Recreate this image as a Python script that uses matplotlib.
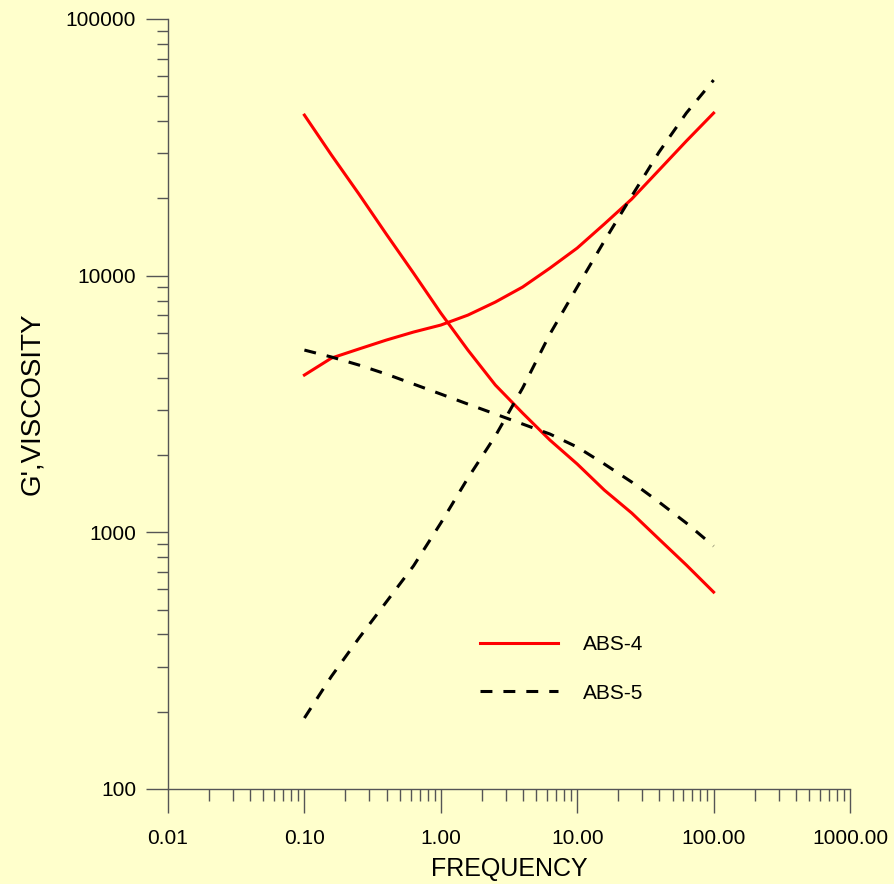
import matplotlib.pyplot as plt
from matplotlib.ticker import LogLocator, FuncFormatter, NullFormatter

# frequency points (5 per decade, 0.1 .. 100)
freq = [0.1, 0.158, 0.251, 0.398, 0.631, 1.0, 1.58, 2.51, 3.98, 6.31,
        10.0, 15.8, 25.1, 39.8, 63.1, 100.0]

# ABS-4 (red, solid)
abs4_visc = [42230, 29500, 20800, 14530, 10230, 7150, 5130, 3750, 2915, 2288,
             1846, 1461, 1189, 941, 746, 585]
abs4_gp = [4100, 4775, 5180, 5610, 6030, 6420, 7020, 7890, 9030, 10700,
           12810, 15890, 19880, 25780, 33450, 43000]

# ABS-5 (black, dashed)
abs5_visc = [5130, 4820, 4485, 4137, 3782, 3457, 3160, 2890, 2642, 2415,
             2149, 1846, 1570, 1312, 1087, 884]
abs5_gp = [189, 275, 387, 535, 740, 1087, 1627, 2373, 3649, 5924,
           9030, 13640, 20420, 30300, 43000, 57810]

x_ticks = [0.01, 0.1, 1, 10, 100, 1000]
y_ticks = [100, 1000, 10000, 100000]

plt.rcParams['font.family'] = ['Liberation Sans', 'DejaVu Sans']
bg = '#FFFFCC'
axis_col = '#555555'

fig = plt.figure(figsize=(8.94, 8.84), dpi=100, facecolor=bg)
ax = fig.add_axes([0.18792, 0.10747, 0.76286, 0.87104], facecolor=bg)

lw = 2.2
dash = (3.9, 3.6)
ax.plot(freq, abs4_visc, color='red', lw=lw, label='ABS-4')
ax.plot(freq, abs4_gp, color='red', lw=lw)
ax.plot(freq, abs5_visc, color='black', lw=lw, dashes=dash, label='ABS-5')
ax.plot(freq, abs5_gp, color='black', lw=lw, dashes=dash)

ax.set_xscale('log')
ax.set_yscale('log')
ax.set_xlim(0.01, 1000)
ax.set_ylim(100, 100000)

ax.set_xticks(x_ticks)
ax.set_yticks(y_ticks)
ax.xaxis.set_minor_locator(LogLocator(base=10, subs=range(2, 10)))
ax.yaxis.set_minor_locator(LogLocator(base=10, subs=range(2, 10)))
ax.xaxis.set_major_formatter(FuncFormatter(lambda v, p: f'{v:.2f}'))
ax.yaxis.set_major_formatter(FuncFormatter(lambda v, p: f'{int(round(v))}'))
ax.xaxis.set_minor_formatter(NullFormatter())
ax.yaxis.set_minor_formatter(NullFormatter())

for s in ['top', 'right']:
    ax.spines[s].set_visible(False)
for s in ['left', 'bottom']:
    ax.spines[s].set_color(axis_col)
    ax.spines[s].set_linewidth(1.0)

ax.tick_params(axis='x', which='major', direction='out', length=17, width=1,
               color=axis_col, labelsize=15, pad=12)
ax.tick_params(axis='x', which='minor', direction='out', length=8.6, width=1,
               color=axis_col)
ax.tick_params(axis='y', which='major', direction='out', length=16, width=1,
               color=axis_col, labelsize=15, pad=7)
ax.tick_params(axis='y', which='minor', direction='out', length=8, width=1,
               color=axis_col)

ax.set_xlabel('FREQUENCY', fontsize=18, labelpad=6)
ax.set_ylabel("G',VISCOSITY", fontsize=20, labelpad=15)

ax.legend(loc='upper left', bbox_to_anchor=(480 / 894, 1 - 635 / 884),
          bbox_transform=fig.transFigure, frameon=False, fontsize=15,
          handlelength=3.75, handletextpad=1.2, labelspacing=1.42,
          borderpad=0, borderaxespad=0)

fig.savefig('out.png', dpi=100, facecolor=bg)
